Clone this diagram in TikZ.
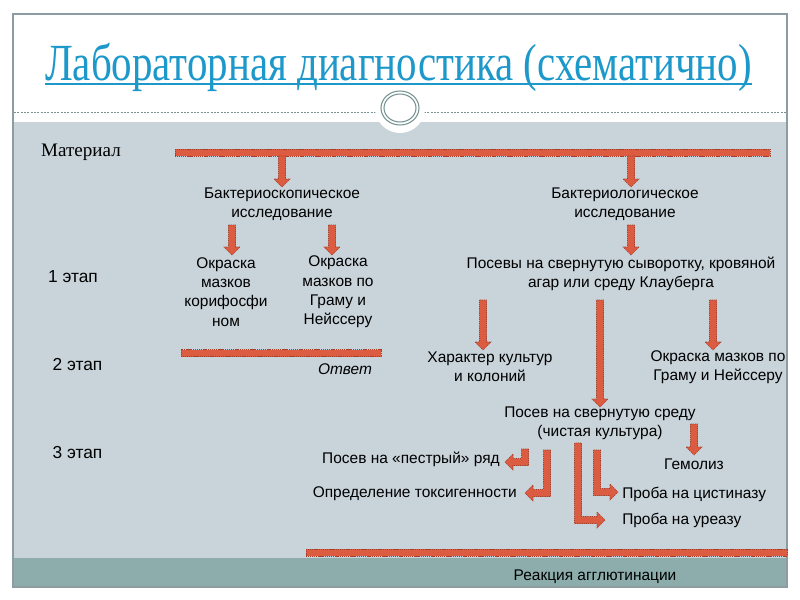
\documentclass[tikz,border=0pt]{standalone}
\usepackage{fontspec}
\setmainfont{Liberation Serif}
\setsansfont{Liberation Sans}
\definecolor{titleblue}{RGB}{28,152,202}
\definecolor{bodygray}{RGB}{200,211,218}
\definecolor{bandteal}{RGB}{140,173,172}
\definecolor{framegray}{RGB}{140,156,160}
\definecolor{ringgray}{RGB}{120,146,146}
\definecolor{arrfill}{RGB}{219,92,64}
\definecolor{arrline}{RGB}{168,62,42}
\tikzset{
  blk/.style={fill=arrfill,draw=arrline,line width=0.45pt,dash pattern=on 1pt off 0.6pt},
  txt/.style={font=\sffamily\fontsize{11.6}{14.5}\selectfont,align=center,inner sep=0pt,text=black},
  lbl/.style={font=\sffamily\fontsize{11.6}{14.5}\selectfont,inner sep=0pt,text=black},
  stagelbl/.style={font=\sffamily\fontsize{13}{15}\selectfont,inner sep=0pt,text=black},
}
\newcommand\myvarr[3]{% x, ytop, ytip
  \filldraw[blk] (#1-3.5,#2) -- (#1+3.5,#2) -- (#1+3.5,#3-8) -- (#1+8,#3-8) -- (#1,#3) -- (#1-8,#3-8) -- (#1-3.5,#3-8) -- cycle;}
\newcommand\myhbar[3]{% x1, x2, ycenter
  \filldraw[blk] (#1,#3-3.5) rectangle (#2,#3+3.5);}
\newcommand\myelbL[4]{% xv, ytop, yh, xtip
  \filldraw[blk] (#1+3.5,#2) -- (#1+3.5,#3+3.5) -- (#4+8,#3+3.5) -- (#4+8,#3+8) -- (#4,#3) -- (#4+8,#3-8) -- (#4+8,#3-3.5) -- (#1-3.5,#3-3.5) -- (#1-3.5,#2) -- cycle;}
\newcommand\myelbR[4]{% xv, ytop, yh, xtip
  \filldraw[blk] (#1-3.5,#2) -- (#1-3.5,#3+3.5) -- (#4-8,#3+3.5) -- (#4-8,#3+8) -- (#4,#3) -- (#4-8,#3-8) -- (#4-8,#3-3.5) -- (#1+3.5,#3-3.5) -- (#1+3.5,#2) -- cycle;}
\begin{document}
\begin{tikzpicture}[x=0.75pt,y=-0.75pt]
\useasboundingbox (0,0) rectangle (800,600);
\fill[white] (0,0) rectangle (800,600);
% background areas
\fill[bodygray] (13,122) rectangle (787,558);
\fill[bandteal] (13,558) rectangle (787,587);
\draw[framegray,line width=0.8pt] (13,14) rectangle (787,587);
% dashed separator and ring
\draw[ringgray,line width=0.5pt,dash pattern=on 1.5pt off 1pt] (14,112) -- (376,112);
\draw[ringgray,line width=0.5pt,dash pattern=on 1.5pt off 1pt] (424,112) -- (786,112);
\fill[white] (400,108) circle [radius=25];
\draw[ringgray,line width=0.8pt] (400,108) ellipse [x radius=19,y radius=17];
\draw[ringgray,line width=0.8pt] (400,108) ellipse [x radius=16,y radius=14];
% title
\node[anchor=base,inner sep=0pt,text=titleblue] (title) at (398.5,80)
  {\resizebox{530pt}{28pt}{\rmfamily Лабораторная диагностика (схематично)}};
\draw[titleblue,line width=1.1pt] (45,84) -- (752,84);
% left labels
\node[font=\rmfamily\fontsize{14.3}{16}\selectfont,inner sep=0pt] (mat) at (81,152) {Материал};
\node[stagelbl] (e1) at (73,277) {1 этап};
\node[stagelbl] (e2) at (77.5,365) {2 этап};
\node[stagelbl] (e3) at (77.5,453) {3 этап};
% bars
\myhbar{175}{770}{152.5}
\myhbar{181}{381}{353}
\myhbar{306}{787}{552.5}
% level 1 arrows
\myvarr{282}{156}{187}
\myvarr{631}{156}{187}
\node[txt] (bs) at (282,204) {Бактериоскопическое\\исследование};
\node[txt] (bl) at (625,204) {Бактериологическое\\исследование};
\myvarr{232}{225}{255}
\myvarr{332}{225}{255}
\myvarr{631}{225}{255}
\node[txt] (ok1) at (226,292) {Окраска\\мазков\\корифосфи\\ном};
\node[txt] (ok2) at (338,292) {Окраска\\мазков по\\Граму и\\Нейссеру};
\node[txt] (pos) at (621,274) {Посевы на свернутую сыворотку, кровяной\\агар или среду Клауберга};
\node[lbl,font=\sffamily\itshape\fontsize{11.6}{14}\selectfont] (otv) at (345,369) {Ответ};
% level 2
\myvarr{483}{300}{350}
\myvarr{600}{300}{407}
\myvarr{713}{300}{350}
\node[txt] (har) at (490,367) {Характер культур\\и колоний};
\node[txt] (okr) at (718,367) {Окраска мазков по\\Граму и Нейссеру};
\node[txt] (ps) at (600,423) {Посев на свернутую среду\\(чистая культура)};
% level 3
\myvarr{694}{424}{455}
\node[lbl] (gem) at (694,464) {Гемолиз};
\myelbL{525}{449}{462}{505}
\myelbL{547}{450}{493}{525}
\myelbR{578}{443}{520}{605}
\myelbR{597}{450}{492}{618}
\node[lbl,anchor=east] (pes) at (500,459) {Посев на «пестрый» ряд};
\node[lbl,anchor=east] (tox) at (517,494) {Определение токсигенности};
\node[lbl,anchor=west] (cis) at (622,494) {Проба на цистиназу};
\node[lbl,anchor=west] (ure) at (622,520) {Проба на уреазу};
\node[lbl] (agg) at (595,577) {Реакция агглютинации};
\end{tikzpicture}
\end{document}
